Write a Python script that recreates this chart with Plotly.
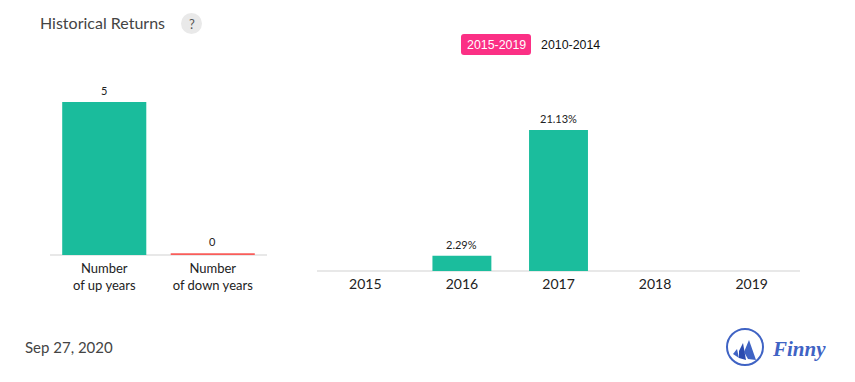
import plotly.graph_objects as go

W, H = 855, 382

count_categories = ["Number<br>of up years", "Number<br>of down years"]
count_values = [5, 0.06]
count_labels = ["5", "0"]
count_colors = ["#1abc9c", "#f95d5a"]

years = ["2015", "2016", "2017", "2018", "2019"]
returns = [None, 2.29, 21.13, None, None]
return_labels = ["", "2.29%", "21.13%", "", ""]

TEAL = "#1bbd9d"
FONT = "Lato"


def px(x):
    return x / W


def py(y):
    return 1 - y / H


fig = go.Figure()
fig.add_trace(go.Bar(
    x=count_categories, y=count_values, cliponaxis=False,
    marker=dict(color=count_colors, line=dict(width=0)), width=0.775,
    xaxis="x", yaxis="y", hoverinfo="skip"))
fig.add_trace(go.Bar(
    x=years, y=returns, cliponaxis=False,
    marker=dict(color=TEAL, line=dict(width=0)), width=0.61,
    xaxis="x2", yaxis="y2", hoverinfo="skip"))

for xs, ys, labels, xr, yr in [(count_categories, count_values, count_labels, "x", "y"),
                               (years, returns, return_labels, "x2", "y2")]:
    for i, (val, lab) in enumerate(zip(ys, labels)):
        if val is not None:
            fig.add_annotation(xref=xr, yref=yr, x=i, y=val, text=lab, showarrow=False,
                               yanchor="bottom", yshift=4, borderpad=0,
                               font=dict(family=FONT, size=11, color="#222222"))

axis_common = dict(showgrid=False, showline=False, ticks="outside", tickcolor="rgba(0,0,0,0)",
                   zeroline=False, type="category")
fig.update_layout(
    width=W, height=H, margin=dict(l=0, r=0, t=0, b=0),
    paper_bgcolor="white", plot_bgcolor="white", showlegend=False,
    font=dict(family=FONT, color="#222222"),
    xaxis=dict(domain=[px(50), px(267)], anchor="y", ticklen=1, tickfont=dict(family=FONT, size=13, color="#222222"), **axis_common),
    yaxis=dict(domain=[py(255), py(71.4)], anchor="x", range=[0, 6], visible=True, showticklabels=False,
               showgrid=False, zeroline=True, zerolinecolor="#e8e8e8", zerolinewidth=2, showline=False, ticks=""),
    xaxis2=dict(domain=[px(317), px(800)], anchor="y2", ticklen=0, tickfont=dict(family=FONT, size=14, color="#222222"), **axis_common),
    yaxis2=dict(domain=[py(271), py(104.2)], anchor="x2", range=[0, 25], showticklabels=False,
                showgrid=False, zeroline=True, zerolinecolor="#e8e8e8", zerolinewidth=2, showline=False, ticks=""),
)


def text(x, y, s, size, color, family=FONT, anchor="left", **kw):
    fig.add_annotation(xref="paper", yref="paper", x=px(x), y=py(y), text=s, showarrow=False,
                       xanchor=anchor, yanchor="middle", font=dict(family=family, size=size, color=color),
                       borderpad=0, borderwidth=0, **kw)


def path(d_points, fill):
    d = "M " + " L ".join(f"{px(x):.5f},{py(y):.5f}" for x, y in d_points) + " Z"
    fig.add_shape(type="path", xref="paper", yref="paper", path=d, fillcolor=fill, line=dict(width=0))


def rounded(x0, y0, x1, y1, r, fill):
    X = lambda v: f"{px(v):.5f}"
    Y = lambda v: f"{py(v):.5f}"
    d = (f"M {X(x0+r)},{Y(y0)} L {X(x1-r)},{Y(y0)} Q {X(x1)},{Y(y0)} {X(x1)},{Y(y0+r)} "
         f"L {X(x1)},{Y(y1-r)} Q {X(x1)},{Y(y1)} {X(x1-r)},{Y(y1)} "
         f"L {X(x0+r)},{Y(y1)} Q {X(x0)},{Y(y1)} {X(x0)},{Y(y1-r)} "
         f"L {X(x0)},{Y(y0+r)} Q {X(x0)},{Y(y0)} {X(x0+r)},{Y(y0)} Z")
    fig.add_shape(type="path", xref="paper", yref="paper", path=d, fillcolor=fill, line=dict(width=0))


# Header
text(40, 22, "Historical Returns", 16, "#444444")
fig.add_shape(type="circle", xref="paper", yref="paper", x0=px(181), x1=px(202), y0=py(34), y1=py(13),
              fillcolor="#e9e9e9", line=dict(width=0))
text(191.5, 23.5, "?", 13, "#555555", anchor="center")

# Range toggle
rounded(461, 34, 531, 55, 3, "#fb3085")
text(496, 45, "2015-2019", 12.4, "#ffffff", family="Liberation Sans", anchor="center")
text(570, 45, "2010-2014", 12.4, "#111111", family="Liberation Sans", anchor="center")

# Footer
text(25, 347, "Sep 27, 2020", 15, "#444444")

# Logo
BLUE = "#3f63c4"
fig.add_shape(type="circle", xref="paper", yref="paper", x0=px(727), x1=px(763), y0=py(365), y1=py(329),
              fillcolor="rgba(0,0,0,0)", line=dict(color=BLUE, width=2))
path([(749, 340), (756, 360), (748, 359), (744, 352)], BLUE)
path([(743, 343), (746, 360), (739, 358), (739, 351)], "#2b4bb0")
path([(737, 349), (739, 358), (733, 354)], BLUE)
text(772, 349, "<b><i>Finny</i></b>", 21, BLUE, family="Liberation Serif")

fig.write_html("out.html", config=dict(displayModeBar=False), post_script="document.body.style.margin='0';")
